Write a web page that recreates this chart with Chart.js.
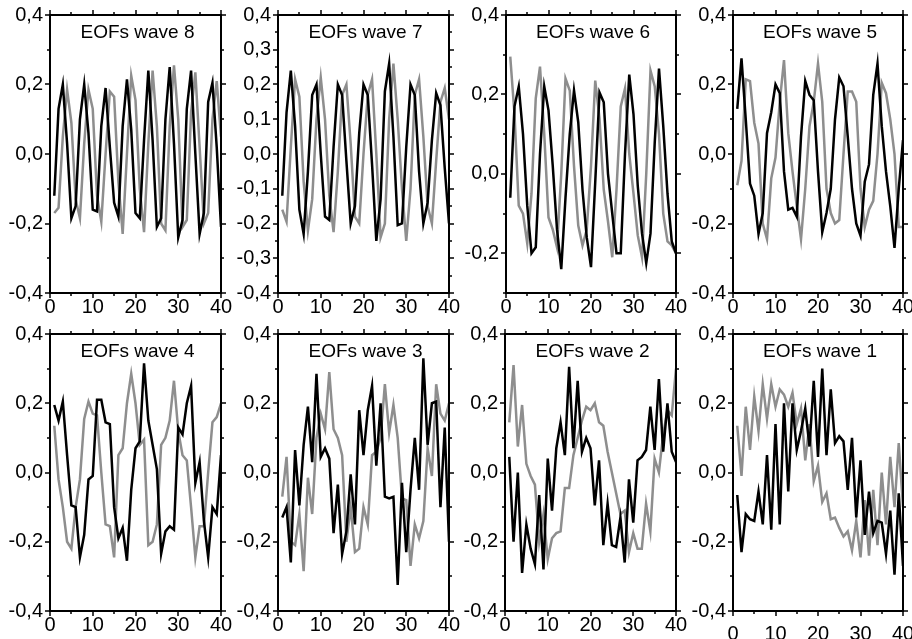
<!DOCTYPE html>
<html>
<head>
<meta charset="utf-8">
<script src="https://cdn.jsdelivr.net/npm/chart.js@4.4.1/dist/chart.umd.min.js"></script>
<style>
  html, body { margin: 0; padding: 0; background: #fff; }
  #wrap { position: relative; width: 912px; height: 639px; overflow: hidden; }
  #wrap canvas { position: absolute; }
</style>
</head>
<body>
<div id="wrap"></div>
<script>
// sample index along each EOF
const X_POS = [1, 2, 3, 4, 5, 6, 7, 8, 9, 10, 11, 12, 13, 14, 15, 16, 17, 18, 19, 20,
  21, 22, 23, 24, 25, 26, 27, 28, 29, 30, 31, 32, 33, 34, 35, 36, 37, 38, 39, 40];

const X_TICKS = [0, 10, 20, 30, 40];
const X_MINOR = [5, 15, 25, 35];
const Y_TICKS = [-0.4, -0.2, 0, 0.2, 0.4];
const Y_MINOR = [-0.3, -0.1, 0.1, 0.3];
const Y_TICKS_W7 = [-0.4, -0.3, -0.2, -0.1, 0, 0.1, 0.2, 0.3, 0.4];
const Y_MINOR_W7 = [-0.35, -0.25, -0.15, -0.05, 0.05, 0.15, 0.25, 0.35];
const Y_TICKS_W6 = [-0.2, 0, 0.2, 0.4];
const Y_MINOR_W6 = [-0.3, -0.1, 0.1, 0.3];

const TITLES = ['EOFs wave 8', 'EOFs wave 7', 'EOFs wave 6', 'EOFs wave 5',
  'EOFs wave 4', 'EOFs wave 3', 'EOFs wave 2', 'EOFs wave 1'];

const W8_BLACK = [-0.12, 0.13, 0.20, 0.03, -0.185, -0.15, 0.10, 0.20, 0.06, -0.16,
  -0.165, 0.08, 0.19, 0.02, -0.14, -0.18, 0.08, 0.215, 0.07, -0.17,
  -0.185, 0.04, 0.24, 0.04, -0.21, -0.185, 0.10, 0.25, 0.03, -0.24,
  -0.19, 0.13, 0.24, 0.0, -0.23, -0.17, 0.15, 0.205, 0.02, -0.21];
const W8_GRAY = [-0.17, -0.155, 0.05, 0.185, 0.09, -0.13, -0.185, 0.03, 0.185, 0.13,
  -0.12, -0.195, 0.0, 0.18, 0.165, -0.08, -0.23, 0.0, 0.225, 0.155,
  -0.10, -0.225, 0.03, 0.24, 0.08, -0.20, -0.22, 0.08, 0.255, 0.10,
  -0.21, -0.19, 0.12, 0.235, 0.02, -0.20, -0.17, 0.10, 0.21, 0.05];

const W7_BLACK = [-0.12, 0.12, 0.24, 0.08, -0.16, -0.23, -0.05, 0.17, 0.20, 0.0,
  -0.18, -0.19, 0.02, 0.20, 0.17, -0.02, -0.20, -0.15, 0.06, 0.20,
  0.17, -0.03, -0.25, -0.13, 0.18, 0.26, 0.05, -0.205, -0.20, 0.02,
  0.20, 0.17, -0.05, -0.20, -0.14, 0.04, 0.175, 0.14, -0.04, -0.20];
const W7_GRAY = [-0.16, -0.195, 0.02, 0.215, 0.165, -0.08, -0.22, -0.13, 0.10, 0.22,
  0.10, -0.12, -0.225, -0.05, 0.17, 0.20, 0.03, -0.18, -0.20, 0.0,
  0.17, 0.215, 0.0, -0.24, -0.20, 0.10, 0.26, 0.10, -0.10, -0.25,
  -0.10, 0.17, 0.215, 0.05, -0.15, -0.20, -0.02, 0.15, 0.19, 0.10];

const W6_BLACK = [-0.06, 0.17, 0.22, 0.10, -0.08, -0.20, -0.185, 0.05, 0.22, 0.16,
  0.02, -0.14, -0.24, -0.06, 0.10, 0.21, 0.13, -0.04, -0.16, -0.235,
  -0.02, 0.205, 0.18, 0.0, -0.10, -0.20, -0.20, 0.05, 0.25, 0.15,
  -0.03, -0.15, -0.225, -0.15, 0.08, 0.265, 0.12, -0.05, -0.17, -0.20];
const W6_GRAY = [0.295, 0.15, -0.08, -0.10, -0.175, -0.05, 0.19, 0.27, 0.10, -0.11,
  -0.14, -0.185, 0.0, 0.24, 0.21, 0.02, -0.13, -0.18, -0.14, 0.02,
  0.235, 0.14, -0.04, -0.12, -0.21, -0.04, 0.17, 0.215, 0.05, -0.05,
  -0.155, -0.21, 0.0, 0.26, 0.22, 0.10, -0.10, -0.17, -0.18, -0.20];

const W5_BLACK = [0.13, 0.275, 0.10, -0.085, -0.12, -0.23, -0.17, 0.06, 0.12, 0.20,
  0.175, -0.05, -0.16, -0.155, -0.18, 0.05, 0.21, 0.17, 0.155, -0.05,
  -0.225, -0.17, -0.10, 0.10, 0.22, 0.195, 0.05, -0.10, -0.20, -0.235,
  -0.08, -0.03, 0.17, 0.26, 0.08, -0.05, -0.15, -0.27, -0.10, 0.04];
const W5_GRAY = [-0.09, -0.02, 0.215, 0.21, 0.09, 0.03, -0.20, -0.245, -0.07, -0.01,
  0.15, 0.27, 0.06, -0.05, -0.15, -0.245, -0.10, 0.08, 0.15, 0.26,
  0.15, -0.10, -0.17, -0.20, -0.19, 0.0, 0.18, 0.18, 0.15, -0.10,
  -0.21, -0.16, -0.135, 0.0, 0.205, 0.175, 0.10, 0.0, -0.21, -0.21];

const W4_BLACK = [0.195, 0.15, 0.205, 0.05, -0.095, -0.10, -0.245, -0.18, -0.02, -0.01,
  0.21, 0.21, 0.145, 0.14, -0.10, -0.19, -0.16, -0.255, -0.05, 0.07,
  0.09, 0.315, 0.15, 0.08, 0.01, -0.235, -0.17, -0.155, -0.165, 0.13,
  0.11, 0.20, 0.25, -0.03, 0.03, -0.14, -0.245, -0.10, -0.12, 0.05];
const W4_GRAY = [0.135, -0.02, -0.10, -0.20, -0.22, -0.10, -0.02, 0.155, 0.205, 0.17,
  0.165, 0.0, -0.15, -0.155, -0.245, 0.05, 0.07, 0.20, 0.285, 0.20,
  0.08, 0.095, -0.21, -0.20, -0.15, 0.08, 0.10, 0.15, 0.265, 0.12,
  0.05, 0.035, -0.10, -0.245, -0.155, -0.155, 0.0, 0.145, 0.16, 0.20];

const W3_BLACK = [-0.13, -0.10, -0.26, 0.065, -0.095, 0.08, 0.19, 0.03, 0.285, 0.045,
  0.07, 0.04, -0.175, -0.035, -0.235, -0.17, -0.005, -0.15, 0.18, 0.05,
  0.18, 0.25, 0.02, 0.20, -0.07, -0.075, -0.07, -0.325, -0.03, -0.23,
  -0.05, 0.10, -0.05, 0.33, 0.08, 0.20, 0.205, -0.10, 0.13, -0.20];
const W3_GRAY = [-0.07, 0.045, -0.20, -0.21, -0.12, -0.285, -0.015, -0.12, 0.10, 0.17,
  0.125, 0.29, 0.125, 0.10, 0.05, -0.20, -0.10, -0.23, -0.22, -0.10,
  -0.15, 0.05, 0.06, 0.10, 0.255, 0.115, 0.195, 0.10, -0.075, -0.08,
  -0.27, -0.15, -0.19, -0.14, 0.07, -0.01, 0.255, 0.17, 0.15, 0.20];

const W2_BLACK = [0.045, -0.20, 0.0, -0.29, -0.15, -0.22, -0.265, -0.065, -0.28, 0.04,
  -0.11, 0.07, 0.145, 0.05, 0.305, 0.07, 0.265, 0.06, 0.10, 0.07,
  -0.095, 0.035, -0.21, -0.09, -0.21, -0.215, -0.13, -0.26, -0.02, -0.145,
  0.035, 0.045, 0.065, 0.19, 0.065, 0.27, 0.06, 0.20, 0.06, 0.03];
const W2_GRAY = [0.145, 0.31, 0.075, 0.195, 0.025, -0.01, -0.035, -0.20, -0.12, -0.25,
  -0.19, -0.175, -0.17, -0.045, -0.045, 0.05, 0.10, 0.15, 0.19, 0.18,
  0.20, 0.145, 0.135, 0.06, 0.0, -0.06, -0.12, -0.11, -0.23, -0.175,
  -0.22, -0.22, -0.09, -0.17, 0.04, 0.0, 0.11, 0.18, 0.165, 0.30];

const W1_BLACK = [-0.065, -0.23, -0.12, -0.135, -0.14, -0.055, -0.15, 0.05, -0.165, 0.14,
  -0.15, 0.20, -0.055, 0.20, 0.065, 0.12, 0.185, 0.075, 0.265, 0.045,
  0.30, 0.05, 0.24, 0.085, 0.105, 0.09, -0.05, 0.10, -0.13, 0.035,
  -0.18, -0.055, -0.175, -0.14, -0.145, -0.235, -0.11, -0.295, -0.06, -0.27];
const W1_GRAY = [0.135, -0.01, 0.19, 0.065, 0.22, 0.12, 0.255, 0.155, 0.255, 0.19,
  0.24, 0.225, 0.19, 0.23, 0.14, 0.185, 0.035, 0.14, -0.025, 0.02,
  -0.085, -0.06, -0.135, -0.13, -0.16, -0.185, -0.17, -0.225, -0.14, -0.245,
  -0.08, -0.24, -0.05, -0.21, 0.0, -0.15, 0.045, -0.10, 0.085, -0.10];

const BLACK = '#000000';
const GRAY = '#8e8e8e';
const FONT = '"Liberation Sans", Arial, sans-serif';

// plot-area rectangles on the page: [left, top, right, bottom]
const panels = [
  { title: TITLES[0], black: W8_BLACK, gray: W8_GRAY, min: -0.4, ticks: Y_TICKS, minor: Y_MINOR, box: [50, 15, 221, 293] },
  { title: TITLES[1], black: W7_BLACK, gray: W7_GRAY, min: -0.4, ticks: Y_TICKS_W7, minor: Y_MINOR_W7, box: [278, 15, 449, 293] },
  { title: TITLES[2], black: W6_BLACK, gray: W6_GRAY, min: -0.3, ticks: Y_TICKS_W6, minor: Y_MINOR_W6, box: [506, 15, 676, 293] },
  { title: TITLES[3], black: W5_BLACK, gray: W5_GRAY, min: -0.4, ticks: Y_TICKS, minor: Y_MINOR, box: [733, 15, 903, 293] },
  { title: TITLES[4], black: W4_BLACK, gray: W4_GRAY, min: -0.4, ticks: Y_TICKS, minor: Y_MINOR, box: [50, 334, 221, 611] },
  { title: TITLES[5], black: W3_BLACK, gray: W3_GRAY, min: -0.4, ticks: Y_TICKS, minor: Y_MINOR, box: [278, 334, 449, 611] },
  { title: TITLES[6], black: W2_BLACK, gray: W2_GRAY, min: -0.4, ticks: Y_TICKS, minor: Y_MINOR, box: [505, 334, 676, 611] },
  { title: TITLES[7], black: W1_BLACK, gray: W1_GRAY, min: -0.4, ticks: Y_TICKS, minor: Y_MINOR, box: [733, 334, 903, 611], xPad: 11 },
];

const AXIS_W = 50, TOP_PAD = 15, RIGHT_PAD = 16, AXIS_H = 30;

// frame, outward ticks on all four sides, and the in-plot title
const framePlugin = {
  id: 'frame',
  afterDatasetsDraw(chart, _args, o) {
    const { ctx, chartArea: a, scales: { x, y } } = chart;
    ctx.save();
    ctx.strokeStyle = BLACK;
    ctx.lineWidth = 1.5;
    ctx.beginPath();
    const xt = (vals, len) => vals.forEach(v => {
      const px = Math.round(x.getPixelForValue(v));
      ctx.moveTo(px, a.bottom); ctx.lineTo(px, a.bottom + len);
      ctx.moveTo(px, a.top); ctx.lineTo(px, a.top - len);
    });
    const yt = (vals, len) => vals.forEach(v => {
      const py = Math.round(y.getPixelForValue(v));
      ctx.moveTo(a.left, py); ctx.lineTo(a.left - len, py);
      ctx.moveTo(a.right, py); ctx.lineTo(a.right + len, py);
    });
    xt(X_TICKS, 5); xt(X_MINOR, 3);
    yt(o.major, 5); yt(o.minor, 3);
    ctx.stroke();
    ctx.lineWidth = 2;
    ctx.strokeRect(a.left, a.top, a.right - a.left, a.bottom - a.top);
    ctx.fillStyle = BLACK;
    ctx.font = '19px ' + FONT;
    ctx.textAlign = 'center';
    ctx.textBaseline = 'middle';
    ctx.fillText(o.title, (a.left + a.right) / 2 + 2, a.top + 18);
    ctx.restore();
  }
};

const wrap = document.getElementById('wrap');
const fmt = v => Number(v).toFixed(1).replace('.', ',');

panels.forEach(p => {
  const [l, t, r, b] = p.box;
  const canvas = document.createElement('canvas');
  const w = (r - l) + AXIS_W + RIGHT_PAD;
  const h = (b - t) + TOP_PAD + AXIS_H;
  canvas.width = w; canvas.height = h;
  canvas.style.left = (l - AXIS_W) + 'px';
  canvas.style.top = (t - TOP_PAD) + 'px';
  canvas.style.width = w + 'px'; canvas.style.height = h + 'px';
  wrap.appendChild(canvas);

  const pts = vals => vals.map((v, i) => ({ x: X_POS[i], y: v }));

  new Chart(canvas, {
    type: 'line',
    data: {
      datasets: [
        { data: pts(p.black), borderColor: BLACK, borderWidth: 2.5 },
        { data: pts(p.gray), borderColor: GRAY, borderWidth: 2.5 },
      ],
    },
    options: {
      responsive: false,
      animation: false,
      devicePixelRatio: 1,
      layout: { padding: { left: 0, top: TOP_PAD, right: RIGHT_PAD, bottom: 0 } },
      elements: { point: { radius: 0 }, line: { tension: 0 } },
      plugins: {
        legend: { display: false },
        tooltip: { enabled: false },
        frame: { title: p.title, major: p.ticks, minor: p.minor },
      },
      scales: {
        x: {
          type: 'linear', min: 0, max: 40,
          grid: { display: false, drawTicks: false },
          border: { display: false },
          ticks: { color: BLACK, font: { family: FONT, size: 20 }, padding: p.xPad || 2, maxRotation: 0 },
          afterBuildTicks: s => { s.ticks = X_TICKS.map(v => ({ value: v })); },
          afterFit: s => { s.height = AXIS_H; s.paddingLeft = 0; s.paddingRight = 0; },
        },
        y: {
          min: p.min, max: 0.4,
          grid: { display: false, drawTicks: false },
          border: { display: false },
          ticks: { color: BLACK, font: { family: FONT, size: 20 }, padding: 7, callback: fmt },
          afterBuildTicks: s => { s.ticks = p.ticks.map(v => ({ value: v })); },
          afterFit: s => { s.width = AXIS_W; s.paddingTop = 0; s.paddingBottom = 0; },
        },
      },
    },
    plugins: [framePlugin],
  });
});
</script>
</body>
</html>
